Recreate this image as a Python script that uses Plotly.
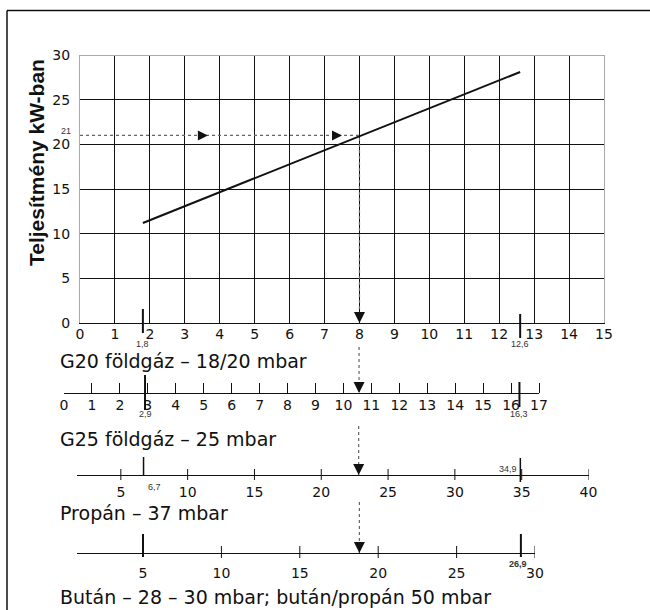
import plotly.graph_objects as go

W, H = 650, 610

# ---------------- data ----------------
power_ticks = [0, 5, 10, 15, 20, 25, 30]
power_grid = [5, 10, 15, 20, 25]
g20_ticks = list(range(0, 16))
g20_grid = list(range(1, 15))
g20_marks = [1.8, 12.6]
g20_mark_labels = ["1,8", "12,6"]
line_load = [1.8, 12.6]
line_power = [11.2, 28.1]
sel_power = 21
sel_g20 = 8
guide_arrows_g20 = [3.66, 7.5]

g25_ticks = list(range(0, 18))
g25_minor = list(range(1, 18))
g25_marks = [2.9, 16.3]
g25_mark_labels = ["2,9", "16,3"]
sel_g25 = 10.56

prop_ticks = [5, 10, 15, 20, 25, 30, 35, 40]
prop_marks = [6.7, 34.9]
prop_mark_labels = ["6,7", "34,9"]
sel_prop = 22.8

but_ticks = [5, 10, 15, 20, 25, 30]
but_marks = [5, 29.1]
but_mark_labels = ["", "26,9"]
sel_but = 18.8

scale_titles = ["G20 földgáz – 18/20 mbar", "G25 földgáz – 25 mbar",
                "Propán – 37 mbar", "Bután – 28 – 30 mbar; bután/propán 50 mbar"]
y_title = "Teljesítmény kW-ban"

# ---------------- helpers ----------------
FONT = "Liberation Sans, Arial, sans-serif"
WIDE = "DejaVu Sans, Liberation Sans, sans-serif"
INK = "#111111"
DOT = "#666666"


def fx(px):
    return px / W


def fy(py):
    return 1 - py / H


def segs(xs, tops, bots):
    X, Y = [], []
    for x, t, b in zip(xs, tops, bots):
        X += [x, x, None]
        Y += [t, b, None]
    return X, Y


fig = go.Figure()

# ---------------- main chart ----------------
fig.add_trace(go.Scatter(x=line_load, y=line_power, mode="lines",
                         line=dict(color=INK, width=2), xaxis="x", yaxis="y",
                         showlegend=False, hoverinfo="skip"))
fig.add_trace(go.Scatter(x=[0, sel_g20, sel_g20], y=[sel_power, sel_power, 0], mode="lines",
                         line=dict(color=DOT, width=1.2, dash="dot"), xaxis="x", yaxis="y",
                         showlegend=False, hoverinfo="skip"))
fig.add_trace(go.Scatter(x=guide_arrows_g20, y=[sel_power] * len(guide_arrows_g20), mode="markers",
                         marker=dict(symbol="arrow-right", size=10, color=INK, line=dict(width=0)),
                         xaxis="x", yaxis="y", cliponaxis=False, showlegend=False, hoverinfo="skip"))
fig.add_trace(go.Scatter(x=[sel_g20], y=[0], mode="markers",
                         marker=dict(symbol="arrow-down", size=11, color=INK, line=dict(width=0)),
                         xaxis="x", yaxis="y", cliponaxis=False, showlegend=False, hoverinfo="skip"))

# overlay for marks crossing the main x axis (y5 unit = 1 px, 0 at axis)
X, Y = segs(g20_marks, [14, 9], [-10, -15])
fig.add_trace(go.Scatter(x=X, y=Y, mode="lines", line=dict(color=INK, width=2),
                         xaxis="x5", yaxis="y5", showlegend=False, hoverinfo="skip"))

# ---------------- G25 scale (y2 unit = 1 px) ----------------
X, Y = segs(g25_marks, [18, 11], [-17, -14])
fig.add_trace(go.Scatter(x=X, y=Y, mode="lines", line=dict(color=INK, width=2),
                         xaxis="x2", yaxis="y2", showlegend=False, hoverinfo="skip"))
fig.add_trace(go.Scatter(x=[sel_g25, sel_g25], y=[46, 0], mode="lines",
                         line=dict(color=DOT, width=1.2, dash="dot"),
                         xaxis="x2", yaxis="y2", showlegend=False, hoverinfo="skip"))
fig.add_trace(go.Scatter(x=[sel_g25], y=[0], mode="markers",
                         marker=dict(symbol="arrow-down", size=11, color=INK, line=dict(width=0)),
                         xaxis="x2", yaxis="y2", cliponaxis=False, showlegend=False, hoverinfo="skip"))

# ---------------- Propane scale ----------------
X, Y = segs(prop_ticks, [6] * len(prop_ticks), [-5] * len(prop_ticks))
fig.add_trace(go.Scatter(x=X, y=Y, mode="lines", line=dict(color=INK, width=1),
                         xaxis="x3", yaxis="y3", showlegend=False, hoverinfo="skip"))
X, Y = segs(prop_marks, [18, 17], [0, -7])
fig.add_trace(go.Scatter(x=X, y=Y, mode="lines", line=dict(color=INK, width=1.5),
                         xaxis="x3", yaxis="y3", showlegend=False, hoverinfo="skip"))
fig.add_trace(go.Scatter(x=[sel_prop, sel_prop], y=[49, 0], mode="lines",
                         line=dict(color=DOT, width=1.2, dash="dot"),
                         xaxis="x3", yaxis="y3", showlegend=False, hoverinfo="skip"))
fig.add_trace(go.Scatter(x=[sel_prop], y=[0], mode="markers",
                         marker=dict(symbol="arrow-down", size=11, color=INK, line=dict(width=0)),
                         xaxis="x3", yaxis="y3", cliponaxis=False, showlegend=False, hoverinfo="skip"))

# ---------------- Butane scale ----------------
normal_but = [t for t in but_ticks if t not in but_marks]
X, Y = segs(normal_but, [7] * len(normal_but), [-5] * len(normal_but))
fig.add_trace(go.Scatter(x=X, y=Y, mode="lines", line=dict(color=INK, width=1),
                         xaxis="x4", yaxis="y4", showlegend=False, hoverinfo="skip"))
X, Y = segs(but_marks, [19, 19], [-4, -4])
fig.add_trace(go.Scatter(x=X, y=Y, mode="lines", line=dict(color=INK, width=2),
                         xaxis="x4", yaxis="y4", showlegend=False, hoverinfo="skip"))
fig.add_trace(go.Scatter(x=[sel_but, sel_but], y=[51, 0], mode="lines",
                         line=dict(color=DOT, width=1.2, dash="dot"),
                         xaxis="x4", yaxis="y4", showlegend=False, hoverinfo="skip"))
fig.add_trace(go.Scatter(x=[sel_but], y=[0], mode="markers",
                         marker=dict(symbol="arrow-down", size=11, color=INK, line=dict(width=0)),
                         xaxis="x4", yaxis="y4", cliponaxis=False, showlegend=False, hoverinfo="skip"))

# ---------------- axes ----------------
tickfont = dict(family=WIDE, size=14, color=INK)
MAIN_X0, MAIN_X1, MAIN_Y0, MAIN_Y1 = 80, 604, 323, 55


def hidden_y(line_py, below, above):
    return dict(domain=[fy(line_py + below), fy(line_py - above)], range=[-below, above],
                visible=False, fixedrange=True)


def scale_x(px0, px1, rng, line_py, tickvals, standoff):
    return dict(domain=[fx(px0), fx(px1)], range=rng, anchor="free", position=fy(line_py),
                showline=True, linecolor=INK, linewidth=1, ticks="", showgrid=False,
                zeroline=False, tickvals=tickvals, ticktext=[str(v) for v in tickvals],
                tickfont=tickfont, ticklabelstandoff=standoff, fixedrange=True)


layout = dict(
    width=W, height=H, margin=dict(l=0, r=0, t=0, b=0),
    paper_bgcolor="white", plot_bgcolor="rgba(0,0,0,0)",
    template="none", showlegend=False, font=dict(family=FONT, color=INK),
    xaxis=dict(domain=[fx(MAIN_X0), fx(MAIN_X1)], range=[0, 15], anchor="y",
               tickvals=g20_ticks, ticktext=[str(v) for v in g20_ticks], tickfont=tickfont,
               ticks="", showgrid=False, zeroline=False, showline=True, linecolor=INK, linewidth=1,
               minor=dict(tickvals=g20_grid, showgrid=True, gridcolor=INK, gridwidth=1, ticks=""),
               ticklabelstandoff=-2, fixedrange=True),
    yaxis=dict(domain=[fy(MAIN_Y0), fy(MAIN_Y1)], range=[0, 30], anchor="x",
               tickvals=power_ticks, ticktext=[str(v) for v in power_ticks], tickfont=tickfont,
               ticks="", showgrid=False, zeroline=False, showline=True, linecolor="#aaaaaa",
               linewidth=1, mirror=True,
               minor=dict(tickvals=power_grid, showgrid=True, gridcolor=INK, gridwidth=1, ticks=""),
               ticklabelstandoff=6, fixedrange=True),
    xaxis5=dict(domain=[fx(MAIN_X0), fx(MAIN_X1)], range=[0, 15], anchor="free", position=fy(MAIN_Y1),
                showline=True, linecolor="#aaaaaa", linewidth=1, showticklabels=False, ticks="",
                showgrid=False, zeroline=False, fixedrange=True),
    yaxis5=hidden_y(MAIN_Y0, 25, 30),
    xaxis2=scale_x(64, 539, [0, 17], 393, g25_ticks, -1),
    yaxis2=hidden_y(393, 25, 55),
    xaxis3=scale_x(77, 588.5, [1.72, 40], 475, prop_ticks, 4),
    yaxis3=hidden_y(475, 20, 55),
    xaxis4=scale_x(77, 535, [0.79, 30], 553, but_ticks, 7),
    yaxis4=hidden_y(553, 20, 55),
)
layout["xaxis2"]["minor"] = dict(tickvals=g25_minor, ticks="inside", ticklen=10, tickcolor=INK,
                                 tickwidth=1, showgrid=False)
layout["yaxis5"]["anchor"] = "x5"
layout["yaxis2"]["anchor"] = "x2"
layout["yaxis3"]["anchor"] = "x3"
layout["yaxis4"]["anchor"] = "x4"
fig.update_layout(**layout)

# ---------------- text ----------------
small = dict(family=FONT, size=9, color="#333333")
ann = []
ann.append(dict(x=0, y=sel_power, xref="x", yref="y", text=str(sel_power), showarrow=False,
                xanchor="right", yanchor="middle", xshift=-7, yshift=4, font=small))
for v, t in zip(g20_marks, g20_mark_labels):
    ann.append(dict(x=v, y=-21, xref="x5", yref="y5", text=t, showarrow=False,
                    xanchor="center", yanchor="middle", font=small))
for v, t in zip(g25_marks, g25_mark_labels):
    ann.append(dict(x=v, y=-21, xref="x2", yref="y2", text=t, showarrow=False,
                    xanchor="center", yanchor="middle", font=small))
ann.append(dict(x=prop_marks[0], y=-12, xref="x3", yref="y3", text=prop_mark_labels[0], showarrow=False,
                xanchor="left", yanchor="middle", xshift=2, font=small))
ann.append(dict(x=prop_marks[1], y=6, xref="x3", yref="y3", text=prop_mark_labels[1], showarrow=False,
                xanchor="right", yanchor="middle", xshift=-1, font=small))
ann.append(dict(x=but_marks[1], y=-11, xref="x4", yref="y4", text="<b>" + but_mark_labels[1] + "</b>",
                showarrow=False, xanchor="center", yanchor="middle", xshift=-3, font=small))

title_y = [361, 439, 513, 597]
for t, py in zip(scale_titles, title_y):
    ann.append(dict(x=fx(58), y=fy(py), xref="paper", yref="paper", text=t, showarrow=False,
                    xanchor="left", yanchor="middle", font=dict(family=WIDE, size=19, color=INK)))

ann.append(dict(x=fx(36), y=fy(163), xref="paper", yref="paper", text="<b>" + y_title + "</b>",
                textangle=-90, showarrow=False, xanchor="center", yanchor="middle",
                font=dict(family=FONT, size=21, color=INK)))
fig.update_layout(annotations=ann)

# frame
fig.update_layout(shapes=[
    dict(type="line", xref="paper", yref="paper", x0=fx(7), x1=1.01, y0=fy(10.5), y1=fy(10.5),
         line=dict(color=INK, width=1.5)),
    dict(type="line", xref="paper", yref="paper", x0=fx(7), x1=fx(7), y0=fy(10.5), y1=-0.01,
         line=dict(color=INK, width=1.5)),
])

fig.write_html("out.html", config={"displayModeBar": False},
               post_script="document.body.style.margin='0';")
